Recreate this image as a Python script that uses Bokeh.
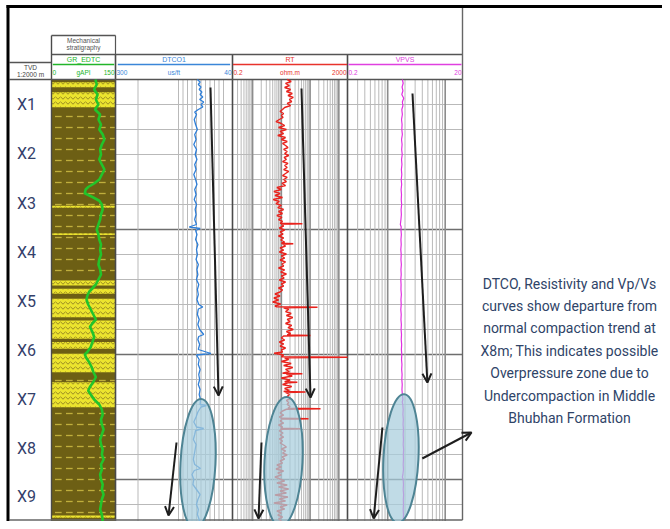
import math
from bokeh.plotting import figure
from bokeh.models import Range1d, LinearScale, LogScale, ColumnDataSource, Arrow, OpenHead
from bokeh.core.properties import value
from bokeh.embed import file_html
from bokeh.resources import INLINE

# ---------------- data ----------------
depth_labels = ["X1", "X2", "X3", "X4", "X5", "X6", "X7", "X8", "X9"]
depth_label_tvd = [49.8, 69.6, 89.4, 109.0, 128.6, 148.2, 167.8, 187.4, 206.6]

depth_top, depth_base = 40.0, 218.4
grid_minor_tvd = [50, 60, 70, 80, 90, 110, 120, 130, 140, 160, 170, 180, 190, 210]
grid_major_tvd = [100, 150, 200]

# sand intervals (top, base) in the mechanical stratigraphy column
sand_top = [41.1, 45.1, 90.5, 101.5, 120.4, 123.7, 127.7, 136.4, 145.0, 149.7, 161.1, 214.4]
sand_base = [43.1, 51.1, 91.3, 102.2, 122.4, 125.7, 135.1, 143.7, 147.7, 157.1, 171.1, 215.3]

gr_log = [(40, 103), (42, 106), (44, 100), (46, 108), (48, 104), (50, 110), (52, 102), (54, 114),
          (56, 110), (58, 116), (60, 112), (62, 120), (64, 124), (66, 118), (68, 114), (70, 116),
          (72, 112), (74, 118), (76, 124), (78, 118), (80, 112), (81.6, 100), (83, 86), (84, 80),
          (85.5, 78), (87, 96), (88.5, 112), (90, 118), (92, 120), (94, 116), (96, 114), (98, 110),
          (100, 106), (102, 110), (104, 112), (106, 116), (108, 114), (110, 116), (112, 112),
          (114, 110), (116, 114), (118, 116), (120, 110), (122, 104), (123.5, 96), (125, 88),
          (126.5, 84), (128, 82), (130, 86), (132, 92), (134, 98), (136, 104), (137.5, 96),
          (139, 90), (141, 96), (143, 100), (145, 96), (147, 92), (149, 84), (150, 78),
          (151.5, 82), (153, 88), (155, 94), (157, 98), (159, 104), (161, 98), (163, 90),
          (164.5, 86), (166, 92), (168, 100), (170, 112), (172, 118), (174, 120), (176, 116),
          (178, 118), (180, 122), (182, 118), (184, 114), (186, 116), (188, 120), (190, 118),
          (192, 122), (194, 116), (196, 118), (198, 114), (200, 116), (202, 120), (204, 118),
          (206, 122), (208, 118), (210, 116), (212, 114), (214, 118), (216, 120), (218, 118)]

dtco_log = [(40, 118), (41, 112), (42, 116), (43, 110), (44, 114), (45, 108), (46, 112), (47, 106),
            (48, 113), (49, 104), (50, 110), (51, 106), (52, 116), (53, 124), (54, 120), (56, 125),
            (58, 122), (60, 118), (62, 124), (64, 121), (66, 126), (68, 120), (70, 123), (72, 119),
            (74, 124), (76, 121), (78, 126), (80, 122), (82, 119), (84, 124), (86, 121), (88, 125),
            (90, 120), (92, 123), (94, 121), (96, 124), (98, 120), (99, 136), (99.6, 112),
            (100.4, 122), (102, 119), (104, 122), (106, 117), (108, 120), (110, 118), (112, 121),
            (114, 116), (116, 119), (118, 117), (120, 120), (122, 115), (124, 118), (126, 116),
            (128, 119), (130, 115), (131, 106), (131.8, 116), (134, 118), (136, 114), (138, 117),
            (140, 113), (142, 104), (142.8, 115), (144, 117), (146, 113), (148, 116), (149.6, 88),
            (150.2, 120), (152, 114), (154, 116), (156, 112), (158, 115), (160, 113), (162, 116),
            (164, 112), (166, 114), (168, 111), (170, 112), (170.4, 98), (171, 110), (173, 117),
            (175, 121), (177, 126), (179, 120), (179.6, 104), (180.4, 122), (182, 124), (184, 127),
            (186, 121), (188, 123), (190, 125), (192, 127), (194, 124), (195.6, 111), (196.4, 125),
            (198, 130), (200, 126), (202, 128), (204, 120), (206, 112), (208, 117), (210, 120),
            (212, 116), (214, 118), (216, 114), (218, 112)]

rt_log = [(40, 16), (40.8, 22), (41.6, 14), (42.4, 19), (43.2, 13), (44, 21), (44.8, 15), (45.6, 24),
          (46.4, 17), (47.2, 26), (48, 19), (48.8, 23), (49.6, 16), (50.4, 21), (51.2, 13),
          (52, 11), (52.8, 9), (53.6, 12), (54.4, 10), (55.2, 11.5), (56, 8.5), (56.8, 6.5), (57.6, 10),
          (58.4, 13), (59.2, 8), (60, 15), (60.8, 9), (61.6, 12), (62.4, 7.5), (63.2, 14), (64, 10),
          (64.8, 16), (65.6, 11), (66.4, 14), (67.2, 17), (68, 12), (68.8, 16), (69.6, 13), (70.4, 18),
          (71.2, 12.5), (72, 15), (72.8, 11), (73.6, 17), (74.4, 13), (75.2, 16), (76, 12), (76.8, 18),
          (77.6, 14), (78.4, 11), (79.2, 16), (80, 12), (80.8, 15), (81.6, 10.5), (82.4, 14),
          (83.2, 7), (84, 10), (84.8, 5.5), (85.6, 9), (86.4, 6), (87.2, 11), (88, 5.2), (88.8, 8.5),
          (89.6, 6.5), (90.4, 10), (91.2, 7.5), (92, 12), (92.8, 8), (93.6, 11), (94.4, 7), (95.2, 10.5),
          (96, 8), (96.8, 11), (97.5, 9), (97.7, 54), (97.9, 10), (98.6, 12), (99.4, 8.5), (100.2, 13),
          (101, 9), (101.8, 11.5), (102.6, 8), (103.4, 12), (104.2, 9.5), (105, 13), (105.5, 10),
          (105.7, 26), (105.9, 11), (106.6, 14), (107.4, 9), (108.2, 12), (109, 8.5), (109.8, 15),
          (110.6, 10), (111.4, 13), (112.2, 9), (113, 14), (113.8, 10.5), (114.6, 12), (115.4, 8),
          (116.2, 13), (117, 9.5), (117.8, 15), (118.6, 10), (119.4, 12.5), (120.2, 8.5), (121, 14),
          (121.8, 10), (122.6, 12), (123.4, 8), (124.2, 11), (125, 9), (125.8, 6), (126.6, 9),
          (127.4, 5.5), (128.2, 8), (129, 5), (129.8, 9.5), (130.6, 6), (130.9, 7), (131.1, 181),
          (131.3, 12), (132, 18), (132.8, 14), (133.6, 22), (134.4, 15), (135.2, 25), (136, 16),
          (136.8, 20), (137.6, 14), (138.4, 23), (139.2, 17), (140, 26), (140.8, 15), (141.6, 21),
          (142.2, 16), (142.4, 103), (142.6, 12), (143.4, 10), (144.2, 13), (145, 8.5), (145.8, 12),
          (146.6, 9), (147.4, 14), (148.2, 10), (149, 11), (149.5, 5.6), (150.2, 12), (150.9, 10),
          (151.1, 2000), (151.3, 13), (152, 18), (152.8, 10), (153.6, 22), (154.4, 12), (155.2, 25),
          (156, 14), (156.8, 19), (157.5, 11), (157.7, 54), (157.9, 15), (158.6, 24), (159.4, 10),
          (160.2, 20), (160.9, 13), (161.1, 36), (161.3, 17), (162, 11), (162.8, 23), (163.6, 13),
          (164.4, 19), (164.8, 12), (165, 69), (165.2, 14), (166, 19), (166.8, 16), (167.6, 21),
          (168.4, 15), (169.2, 18), (170, 16), (170.8, 20), (171.5, 17), (171.7, 230), (171.9, 15),
          (172.6, 11), (173.4, 9), (174.2, 12), (175, 8.5), (175.5, 10), (175.7, 88), (175.9, 11),
          (176.6, 9), (177.4, 12), (178.2, 8), (179, 11), (179.5, 9.5), (179.7, 46), (179.9, 10),
          (180.6, 8.5), (181.4, 11.5), (182.2, 9), (183, 12), (183.8, 8.5), (184.6, 11), (185.4, 9),
          (186.2, 12), (187, 15), (187.8, 10), (188.6, 14), (189.4, 11), (190.2, 16), (191, 10.5),
          (191.8, 13), (192.6, 9), (193.4, 11), (194.2, 7), (195, 10), (195.8, 6.5), (196.6, 12),
          (197.4, 7.5), (198.2, 10), (199, 6), (199.8, 9), (200.6, 13), (201.4, 7), (202.2, 16),
          (203, 8), (203.8, 18), (204.6, 9), (205.4, 15), (206.2, 6), (207, 17), (207.8, 8.5),
          (208.6, 14), (209.4, 5.5), (210.2, 16), (211, 9), (211.8, 13), (212.6, 7), (213.4, 10),
          (214.2, 7.5), (215, 11), (215.8, 8), (216.6, 10), (217.4, 7), (218.2, 9)]

vpvs_log = [(40, 1.80), (41.5, 1.86), (43, 1.78), (44.5, 1.84), (46, 1.76), (47.5, 1.90), (49, 1.80),
            (50.5, 1.84), (52, 1.76), (54, 1.80), (56, 1.74), (58, 1.78), (60, 1.76), (62, 1.80),
            (64, 1.74), (66, 1.78), (68, 1.75), (70, 1.79), (72, 1.74), (74, 1.77), (76, 1.73),
            (78, 1.76), (80, 1.72), (82, 1.75), (84, 1.71), (86, 1.74), (88, 1.72), (90, 1.75),
            (92, 1.71), (94, 1.73), (96, 1.70), (98, 1.66), (99, 1.72), (100, 1.70), (102, 1.73),
            (104, 1.70), (106, 1.72), (108, 1.69), (110, 1.72), (112, 1.70), (114, 1.73), (116, 1.70),
            (118, 1.72), (120, 1.69), (122, 1.71), (124, 1.70), (126, 1.73), (128, 1.70), (130, 1.72),
            (132, 1.69), (134, 1.72), (136, 1.70), (138, 1.73), (140, 1.71), (142, 1.74), (144, 1.72),
            (146, 1.75), (148, 1.73), (150, 1.76), (152, 1.74), (154, 1.77), (156, 1.75), (158, 1.78),
            (160, 1.76), (162, 1.79), (164, 1.77), (166, 1.80), (168, 1.84), (169, 1.79), (170, 1.83),
            (172, 1.86), (174, 1.84), (176, 1.87), (178, 1.85), (180, 1.88), (182, 1.86), (184, 1.88),
            (186, 1.86), (188, 1.89), (190, 1.87), (192, 1.88), (194, 1.86), (196, 1.88), (198, 1.84),
            (199, 1.80), (200, 1.86), (202, 1.88), (204, 1.86), (206, 1.89), (208, 1.87), (210, 1.88),
            (212, 1.86), (214, 1.88), (216, 1.87), (218, 1.88)]

# curve scales (left value, right value)
gr_scale = (0, 150)
dtco_scale = (300, 40)
rt_scale = (0.2, 2000)
vpvs_scale = (0.2, 20)
dtco_grid = [250, 160, 150, 140, 130, 120, 110, 100, 90, 80, 70, 60]

# annotations: ellipses (centre value, centre depth) and trend arrows
ell_dtco = (116.7, 193.6)
ell_rt = (11.9, 192.8)
ell_vpvs = (1.70, 191.6)
arrows_dtco = dict(x0=[88.9, 164.4], y0=[43.2, 185.2], x1=[71.1, 182.2], y1=[166.4, 214.4])
arrows_rt = dict(x0=[50.2, 2.04], y0=[43.6, 185.2], x1=[103.4, 1.61], y1=[167.2, 215.6])
arrows_vpvs = dict(x0=[2.7, 0.81, 4.0], y0=[45.6, 179.2, 191.6], x1=[4.9, 0.57, 28.7], y1=[161.2, 215.6, 181.2])

note_lines = ["DTCO, Resistivity and Vp/Vs", "curves show departure from",
              "normal compaction trend at", "X8m; This indicates possible",
              "Overpressure zone due to", "Undercompaction in Middle", "Bhubhan Formation"]

# ---------------- layout ----------------
X_LO, X_HI = 0, 662
Y_BOT, Y_TOP = 521, 0
DEP_L, LIT_L, DT_L, RT_L, VP_L, VP_R = 9, 51, 115, 232, 347, 462
BODY_T, BODY_B = 79, 525
FRAME_B = 519.5


def lin_ext(v0, v1, p0, p1, lo, hi):
    s = (v1 - v0) / (p1 - p0)
    return Range1d(start=v0 + (lo - p0) * s, end=v1 + (hi - p1) * s)


def log_ext(v0, v1, p0, p1, lo, hi):
    a, b = math.log10(v0), math.log10(v1)
    s = (b - a) / (p1 - p0)
    return Range1d(start=10 ** (a + (lo - p0) * s), end=10 ** (b + (hi - p1) * s))


p = figure(width=X_HI - X_LO, height=Y_BOT - Y_TOP,
           x_range=Range1d(X_LO, X_HI), y_range=Range1d(Y_BOT, Y_TOP),
           output_backend="svg", toolbar_location=None,
           x_axis_location=None, y_axis_location=None,
           min_border=0, outline_line_color=None, background_fill_color="white")
p.grid.visible = False

p.extra_x_ranges = {
    "gr": lin_ext(gr_scale[0], gr_scale[1], LIT_L, DT_L, X_LO, X_HI),
    "dt": lin_ext(dtco_scale[0], dtco_scale[1], DT_L, RT_L, X_LO, X_HI),
    "rt": log_ext(rt_scale[0], rt_scale[1], RT_L, VP_L, X_LO, X_HI),
    "vp": log_ext(vpvs_scale[0], vpvs_scale[1], VP_L, VP_R, X_LO, X_HI),
}
p.extra_x_scales = {"gr": LinearScale(), "dt": LinearScale(), "rt": LogScale(), "vp": LogScale()}
p.extra_y_ranges = {"depth": lin_ext(depth_top, depth_base, BODY_T, BODY_B, Y_BOT, Y_TOP)}
p.extra_y_scales = {"depth": LinearScale()}

# ---- lithology column ----
p.quad(left=gr_scale[0], right=gr_scale[1], top=depth_top, bottom=depth_base,
       x_range_name="gr", y_range_name="depth",
       fill_color="#6d5f14", line_color=None,
       hatch_pattern="horizontal_dash", hatch_color="#bfae3c", hatch_scale=11, hatch_weight=1.3)
p.quad(left=[gr_scale[0]] * len(sand_top), right=[gr_scale[1]] * len(sand_top),
       top=sand_top, bottom=sand_base, x_range_name="gr", y_range_name="depth",
       fill_color="#ece42e", line_color=None,
       hatch_pattern="horizontal_wave", hatch_color="#9a8a22", hatch_scale=5, hatch_weight=1)

# ---- grid ----
LIGHT, DARK = "#b9b9b9", "#8c8c8c"
p.segment(x0=DT_L, x1=VP_R, y0=grid_minor_tvd, y1=grid_minor_tvd, y_range_name="depth",
          line_color=LIGHT, line_width=1)
p.segment(x0=DT_L, x1=VP_R, y0=grid_major_tvd, y1=grid_major_tvd, y_range_name="depth",
          line_color="#6e6e6e", line_width=1.6)

p.segment(x0=dtco_grid, x1=dtco_grid, y0=depth_top, y1=depth_base,
          x_range_name="dt", y_range_name="depth", line_color=LIGHT, line_width=1)


def log_lines(lo, hi):
    minor, major = [], []
    k = math.floor(math.log10(lo))
    while 10 ** k <= hi:
        for m in range(1, 10):
            v = round(m * 10 ** k, 6)
            if lo < v < hi:
                (major if m == 1 else minor).append(v)
        k += 1
    return minor, major


for name, sc in (("rt", rt_scale), ("vp", vpvs_scale)):
    mn, mj = log_lines(*sc)
    p.segment(x0=mn, x1=mn, y0=depth_top, y1=depth_base, x_range_name=name, y_range_name="depth",
              line_color=LIGHT, line_width=1)
    p.segment(x0=mj, x1=mj, y0=depth_top, y1=depth_base, x_range_name=name, y_range_name="depth",
              line_color=DARK, line_width=1.6)

# ---- frame lines ----
FR = "#555555"
p.segment(x0=[DT_L, RT_L, VP_L], x1=[DT_L, RT_L, VP_L], y0=54, y1=BODY_B, line_color="#4a4a4a", line_width=1.6)
p.segment(x0=[LIT_L], x1=[LIT_L], y0=35, y1=BODY_B, line_color="#4a4a4a", line_width=1.4)
p.segment(x0=[DEP_L, LIT_L, LIT_L, DEP_L], x1=[VP_R, VP_R, DT_L, LIT_L],
          y0=[BODY_T, 54, 35, 62], y1=[BODY_T, 54, 35, 62], line_color=FR, line_width=1.4)
p.segment(x0=[DT_L], x1=[DT_L], y0=35, y1=54, line_color=FR, line_width=1.2)
p.segment(x0=[VP_R, DEP_L], x1=[VP_R, VP_R], y0=[7, FRAME_B], y1=[FRAME_B, FRAME_B],
          line_color="#666666", line_width=1.4)
p.quad(left=[6, 6], right=[X_HI, 9], top=[4.5, 4.5], bottom=[7.5, Y_BOT], fill_color="black", line_color=None)

# ---- curves ----
p.line([v for _, v in gr_log], [d for d, _ in gr_log], x_range_name="gr", y_range_name="depth",
       line_color="#22c42a", line_width=2.6)
p.line([v for _, v in dtco_log], [d for d, _ in dtco_log], x_range_name="dt", y_range_name="depth",
       line_color="#2f7fd8", line_width=1.3)
p.line([v for _, v in rt_log], [d for d, _ in rt_log], x_range_name="rt", y_range_name="depth",
       line_color="#e8221c", line_width=1.4)
p.line([v for _, v in vpvs_log], [d for d, _ in vpvs_log], x_range_name="vp", y_range_name="depth",
       line_color="#e02fe0", line_width=1.2)

# ---- ellipses ----
for (cx, cy), rng, w in ((ell_dtco, "dt", 35), (ell_rt, "rt", 38), (ell_vpvs, "vp", 35)):
    p.ellipse(x=[cx], y=[cy], width=w, height=129, angle=-0.05,
              width_units="screen", height_units="screen",
              x_range_name=rng, y_range_name="depth",
              fill_color="#a7cddd", fill_alpha=0.72, line_color="#4e8494", line_width=2)

# ---- arrows ----
for src, rng in ((arrows_dtco, "dt"), (arrows_rt, "rt"), (arrows_vpvs, "vp")):
    p.add_layout(Arrow(end=OpenHead(size=9, line_width=2, line_color="#1e1e1e"),
                       x_start="x0", y_start="y0", x_end="x1", y_end="y1",
                       source=ColumnDataSource(src), line_width=2, line_color="#1e1e1e",
                       x_range_name=rng, y_range_name="depth"))

# ---- header texts ----
SMALL = "7px"
p.text(x=[(LIT_L + DT_L) / 2] * 2, y=[40, 47], text=["Mechanical", "stratigraphy"],
       text_align="center", text_baseline="middle", text_font_size="6.5px", text_color="#555555",
       text_font=value("Liberation Sans"))
p.text(x=[(DEP_L + LIT_L) / 2] * 2, y=[67, 74], text=["TVD", "1:2000 m"],
       text_align="center", text_baseline="middle", text_font_size="6.5px", text_color="#444444",
       text_font=value("Liberation Sans"))

headers = [("gr", gr_scale, "GR_EDTC", "gAPI", "#22b52a", False),
           ("dt", dtco_scale, "DTCO1", "us/ft", "#3b86d8", False),
           ("rt", rt_scale, "RT", "ohm.m", "#e8332c", True),
           ("vp", vpvs_scale, "VPVS", "", "#e040e0", True)]
for rng, (a, b), name, unit, col, islog in headers:
    mid = math.sqrt(a * b) if islog else (a + b) / 2
    span = (b - a)
    pad_l = a * 1.04 if islog else a + span * 0.02
    pad_r = b / 1.04 if islog else b - span * 0.02
    p.text(x=[mid], y=[59], text=[name], x_range_name=rng, text_align="center", text_baseline="middle",
           text_font_size=SMALL, text_color=col, text_font=value("Liberation Sans"))
    p.segment(x0=[pad_l], x1=[pad_r], y0=64, y1=64, x_range_name=rng, line_color=col, line_width=1.6)
    p.text(x=[a], y=[72], text=["%g" % a], x_range_name=rng, x_offset=1,
           text_align="left", text_baseline="middle", text_font_size="6.5px", text_color=col,
           text_font=value("Liberation Sans"))
    p.text(x=[mid], y=[72], text=[unit], x_range_name=rng,
           text_align="center", text_baseline="middle", text_font_size="6.5px", text_color=col,
           text_font=value("Liberation Sans"))
    p.text(x=[b], y=[72], text=["%g" % b], x_range_name=rng, x_offset=-1,
           text_align="right", text_baseline="middle", text_font_size="6.5px", text_color=col,
           text_font=value("Liberation Sans"))

# ---- depth labels ----
p.text(x=[26] * len(depth_labels), y=depth_label_tvd, text=depth_labels,
       y_range_name="depth", text_align="center", text_baseline="middle",
       text_font_size="16px", text_color="#33406a", text_font=value("Roboto"))

# ---- note ----
p.text(x=[569] * len(note_lines), y=[283 + 22.4 * i for i in range(len(note_lines))], text=note_lines,
       text_align="center", text_baseline="middle", text_font_size="14px", text_color="#2f4468",
       text_font=value("Roboto"))

open("out.html", "w").write(file_html(p, INLINE))
